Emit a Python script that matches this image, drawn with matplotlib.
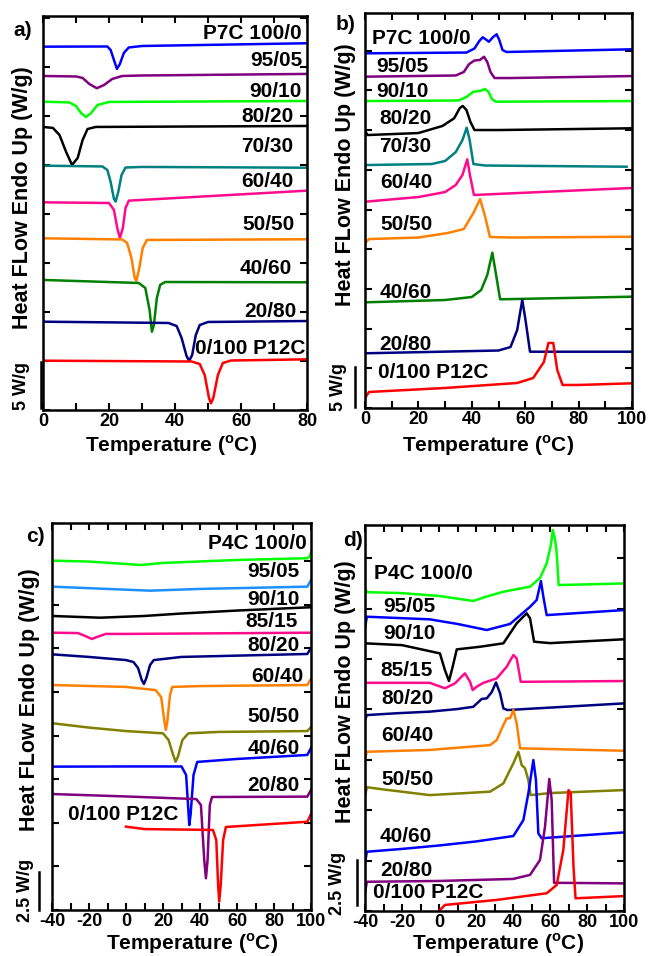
import matplotlib
matplotlib.use('Agg')
import matplotlib.pyplot as plt
from matplotlib.ticker import MultipleLocator
from matplotlib.lines import Line2D

plt.rcParams['font.family'] = ['Liberation Sans', 'DejaVu Sans']
plt.rcParams['font.weight'] = 'bold'
plt.rcParams['axes.unicode_minus'] = False
plt.rcParams['mathtext.fontset'] = 'custom'
plt.rcParams['mathtext.rm'] = 'Liberation Sans:bold'
plt.rcParams['mathtext.bf'] = 'Liberation Sans:bold'

# ---------------- panel a: P7C / P12C cooling ----------------
a_names = ['P7C 100/0', '95/05', '90/10', '80/20', '70/30', '60/40',
           '50/50', '40/60', '20/80', '0/100 P12C']
a_colors = ['#0000FF', '#800080', '#00FF00', '#000000', '#008080',
            '#FF0A8C', '#FF8000', '#008000', '#000080', '#FF0000']
a_temp = [
    [0, 19.5, 20.5, 21.5, 22.4, 23.3, 24.5, 26, 30, 80],
    [0, 10, 12, 14, 16.3, 18.5, 21, 24, 30, 80],
    [0, 8, 10, 11.5, 13, 14.5, 16.5, 20, 80],
    [0, 3, 5, 7, 8.8, 10.5, 12, 13.5, 16, 80],
    [0, 18, 19.5, 20.5, 21.5, 22, 22.8, 23.8, 25, 30, 80],
    [0, 20, 21.5, 22.5, 23.3, 24.2, 25, 26, 80],
    [0, 24, 25.5, 26.8, 27.8, 28.3, 29.2, 30.2, 31.5, 80],
    [0, 29, 31, 32.3, 33, 33.6, 34.5, 35.5, 37, 80],
    [0, 38, 40.5, 42, 43.5, 44.3, 45.2, 46.3, 47.5, 50, 80],
    [0, 45, 47.5, 49, 50.3, 50.9, 51.6, 53, 54.5, 57, 80],
]
a_heat = [
    [37.07, 37.09, 36.73, 35.71, 34.80, 35.31, 36.43, 36.99, 37.14, 37.42],
    [34.08, 34.03, 33.88, 33.27, 32.83, 33.16, 33.78, 34.08, 34.13, 34.29],
    [31.46, 31.38, 31.02, 30.31, 29.90, 30.26, 31.12, 31.43, 31.53],
    [28.88, 28.78, 28.06, 26.33, 25.00, 25.71, 27.55, 28.67, 28.88, 28.98],
    [24.93, 24.85, 24.49, 23.27, 21.53, 21.26, 22.24, 23.98, 24.74, 24.80, 24.72],
    [21.19, 21.12, 20.41, 18.57, 17.55, 18.57, 20.61, 21.36, 22.38],
    [17.52, 17.40, 17.04, 15.51, 13.47, 13.19, 14.49, 16.53, 17.35, 17.42],
    [13.27, 12.96, 12.45, 10.20, 7.99, 8.67, 11.43, 12.76, 13.06, 13.03],
    [9.01, 8.88, 8.57, 7.35, 5.51, 5.03, 5.61, 7.65, 8.67, 8.98, 9.08],
    [5.03, 4.95, 4.69, 3.57, 1.22, 0.68, 1.22, 3.57, 4.80, 5.05, 5.17],
]

# ---------------- panel b: P7C / P12C heating ----------------
b_names = a_names
b_colors = a_colors
b_temp = [
    [0, 38, 41, 42.8, 44.1, 45.3, 46.4, 48, 49.3, 50.3, 51.5, 53, 100],
    [0, 34, 37, 39, 41, 43, 44.6, 45.8, 47, 48.5, 55, 100],
    [0, 35, 38, 40.6, 43, 45, 46.3, 47.5, 49, 100],
    [0, 1, 20, 29, 33.4, 35.5, 36.6, 38, 39.5, 41, 50, 100],
    [0, 25, 30, 34, 36.5, 38.1, 39.2, 40.6, 45, 98],
    [0, 20, 30, 34, 36.5, 38.3, 39.3, 40.8, 100],
    [0, 1.5, 20, 31, 37, 40.6, 43.1, 45, 46.8, 55, 100],
    [0, 30, 40, 43.5, 45.8, 47.7, 48.8, 50.6, 100],
    [0, 50, 54.5, 57, 58.9, 60, 61.8, 100],
    [0, 1.5, 30, 57, 63, 67, 68.7, 70.5, 72, 74, 80, 100],
]
b_heat = [
    [44.67, 44.77, 45.28, 46.22, 46.69, 46.41, 46.13, 46.73, 47.07, 46.35, 45.09, 44.84, 45.18],
    [41.73, 41.88, 42.32, 43.32, 43.77, 43.83, 44.24, 43.58, 42.32, 41.56, 41.56, 41.81],
    [38.66, 38.73, 39.17, 39.84, 39.92, 40.18, 39.80, 38.92, 38.58, 38.66],
    [34.89, 34.38, 34.63, 35.52, 36.49, 37.78, 38.04, 37.53, 36.02, 35.01, 35.01, 35.23],
    [30.60, 30.73, 31.11, 32.24, 33.75, 35.30, 33.75, 30.73, 30.54, 30.39],
    [25.98, 26.57, 27.20, 28.09, 29.35, 31.32, 29.35, 26.83, 27.71],
    [20.78, 21.28, 21.47, 22.04, 22.54, 24.56, 26.32, 24.09, 21.54, 21.47, 21.57],
    [13.31, 13.60, 13.98, 14.86, 16.75, 19.56, 17.38, 13.69, 14.02],
    [6.89, 7.24, 7.68, 9.82, 13.60, 11.34, 7.09, 7.09],
    [1.26, 2.02, 2.52, 3.15, 3.78, 5.79, 8.19, 8.19, 4.79, 2.90, 2.90, 3.11],
]

# ---------------- panel c: P4C / P12C cooling ----------------
c_names = ['P4C 100/0', '95/05', '90/10', '85/15', '80/20', '60/40',
           '50/50', '40/60', '20/80', '0/100 P12C']
c_colors = ['#00FF00', '#1E90FF', '#000000', '#FF0A8C', '#000080',
            '#FF8000', '#808000', '#0000FF', '#800080', '#FF0000']
c_temp = [
    [-40, -20, 0, 7.6, 20, 60, 98, 99.5, 100],
    [-40, -10, 13, 40, 98, 100],
    [-40, -14, 10, 30, 60, 100],
    [-40, -26, -22, -18.5, -15, -11, 0, 100],
    [-40, -20, 0, 4, 6.5, 8.5, 9.7, 11, 13, 15, 30, 98, 100],
    [-40, 0, 16, 19, 20.8, 21.5, 22.3, 23.8, 25, 40, 98, 100],
    [-40, -20, 0, 20, 23, 25.5, 26.8, 28, 30.5, 33.7, 50, 98, 100],
    [-40, 0, 30, 32.5, 33.7, 34.2, 34.9, 36.5, 38.5, 60, 98, 100],
    [-40, 0, 38, 40.5, 42.3, 43.2, 44.1, 45.3, 46.5, 98, 100],
    [0, 10, 47, 48.8, 49.8, 50.4, 51.2, 52.5, 54, 98, 100],
]
c_heat = [
    [20.03, 19.98, 19.84, 19.78, 19.90, 20.07, 20.17, 20.30, 20.49],
    [18.54, 18.41, 18.31, 18.41, 18.54, 18.92],
    [16.86, 16.76, 16.86, 17.00, 17.17, 17.36],
    [15.90, 15.88, 15.71, 15.54, 15.68, 15.83, 15.83, 15.90],
    [14.66, 14.51, 14.33, 14.22, 13.88, 13.19, 12.96, 13.30, 14.05, 14.33, 14.51, 14.68, 15.02],
    [12.90, 12.79, 12.61, 12.21, 10.78, 10.32, 10.78, 12.33, 12.79, 12.84, 12.90, 13.25],
    [10.71, 10.46, 10.26, 10.13, 9.75, 8.89, 8.50, 8.77, 9.75, 10.13, 10.21, 10.26, 10.49],
    [8.22, 8.23, 8.23, 7.74, 5.73, 4.87, 5.45, 7.74, 8.49, 8.66, 8.89, 9.29],
    [6.65, 6.51, 6.36, 6.02, 2.87, 1.82, 2.87, 6.02, 6.48, 6.50, 6.88],
    [4.78, 4.64, 4.59, 4.01, 1.43, 0.48, 1.43, 4.01, 4.76, 5.06, 5.50],
]

# ---------------- panel d: P4C / P12C heating ----------------
d_names = c_names
d_colors = ['#00FF00', '#0000FF', '#000000', '#FF0A8C', '#000080',
            '#FF8000', '#808000', '#0000FF', '#800080', '#FF0000']
d_temp = [
    [-40, -39, -20, 0, 18.5, 25, 34.8, 49.2, 54.6, 58.2, 60.5, 61.5, 62.8, 63.6, 64.7, 100],
    [-40, -39, -5, 10, 25.8, 38.4, 49.2, 52.8, 55.1, 56.4, 58.2, 100],
    [-40, -20, 0.5, 3.2, 5.4, 7.4, 9.6, 22.2, 34.8, 42, 47.4, 49.2, 51.4, 60, 100],
    [-40, -5, 3.2, 8.6, 14, 16.8, 18.2, 20.4, 24, 31.2, 36.6, 40.2, 42, 44.2, 100],
    [-40, -39, -23, -5, 10, 18.5, 23.1, 25.8, 28.5, 30.8, 33, 34.8, 37, 100],
    [-40, -39, -5, 27.6, 31.2, 34.8, 36.6, 38.4, 40.2, 42, 43.8, 100],
    [-40, -39, -30, -5, 27.6, 34.8, 40.2, 42.9, 44.7, 46.5, 48.3, 49.5, 60, 100],
    [-40, -39, -20, 0, 20, 40.2, 45.6, 48.3, 51, 52.4, 53.7, 55.5, 100],
    [-40, -39, 0, 40, 49.2, 54.6, 57.3, 59.6, 60.9, 62.2, 100],
    [0.5, 3.2, 31.2, 58.2, 63.6, 67.2, 70, 71.2, 72.7, 73.8, 100],
]
d_heat = [
    [16.02, 15.82, 15.77, 15.63, 15.38, 15.58, 15.84, 16.09, 16.52, 17.25, 18.15, 18.90, 18.40, 17.76, 16.17, 16.25],
    [14.02, 14.60, 14.47, 14.24, 13.94, 14.24, 15.09, 15.43, 16.37, 15.59, 14.68, 14.93],
    [13.28, 13.19, 12.78, 11.95, 11.41, 12.12, 12.98, 13.11, 13.28, 14.27, 14.77, 14.52, 13.36, 13.29, 13.48],
    [11.32, 11.32, 11.05, 11.29, 11.79, 11.37, 10.96, 11.13, 11.32, 11.54, 12.12, 12.70, 12.53, 11.37, 11.41],
    [9.47, 9.72, 9.81, 9.89, 10.02, 10.13, 10.52, 10.55, 10.86, 11.34, 10.80, 10.05, 9.97, 10.30],
    [7.57, 7.90, 7.99, 8.23, 8.48, 9.23, 9.56, 9.56, 9.97, 9.31, 8.07, 7.95],
    [5.70, 6.14, 6.03, 5.75, 5.92, 6.33, 7.33, 7.90, 7.24, 7.08, 6.50, 5.75, 5.85, 6.00],
    [2.37, 2.94, 3.08, 3.25, 3.45, 3.72, 4.51, 5.84, 7.49, 6.50, 3.85, 3.61, 3.90],
    [0.88, 1.45, 1.49, 1.59, 1.79, 2.53, 4.18, 6.55, 5.51, 1.40, 1.37],
    [0.05, 0.30, 0.55, 0.88, 1.29, 3.03, 6.00, 5.84, 2.20, 0.63, 0.74],
]

# label anchors (data coords) and alignment for the sample names
a_lab = [(78.5, 38.44), (78.5, 35.64), (78.5, 32.48), (75.8, 29.93), (75.8, 26.87),
         (75.8, 23.30), (76.4, 18.88), (75.4, 14.46), (76.9, 10.03), (79.4, 6.30)]
b_lab = [(2.5, 46.56), (4.4, 42.98), (4.4, 39.84), (5.4, 36.40), (5.2, 32.91),
         (5.6, 28.38), (5.6, 23.05), (5.4, 14.52), (5.4, 8.06), (5.0, 4.45)]
c_lab = [(97.7, 20.99), (93.7, 19.40), (94.1, 17.82), (92.8, 16.57), (94.1, 15.19),
         (95.8, 13.38), (94.1, 11.08), (94.1, 9.27), (93.7, 7.11), (-31.2, 5.45)]
d_lab = [(-35.1, 16.75), (-30.1, 15.09), (-30.4, 13.77), (-31.9, 11.95), (-31.0, 10.55),
         (-31.0, 8.73), (-31.0, 6.50), (-31.9, 3.69), (-31.9, 2.03), (-35.5, 0.91)]
a_ha = ['right'] * 10
b_ha = ['left'] * 10
c_ha = ['right'] * 9 + ['left']
d_ha = ['left'] * 10

W, H = 649, 956
fig = plt.figure(figsize=(W / 100, H / 100), dpi=100)


def fx(px):
    return px / W


def fy(py):
    return 1 - py / H


def make_axes(left, top, right, bottom, xlim, ylim, ystep):
    ax = fig.add_axes([fx(left), fy(bottom), (right - left) / W, (bottom - top) / H])
    ax.set_xlim(*xlim)
    ax.set_ylim(*ylim)
    ax.xaxis.set_major_locator(MultipleLocator(20))
    ax.xaxis.set_minor_locator(MultipleLocator(10))
    ax.yaxis.set_major_locator(MultipleLocator(ystep))
    ax.tick_params(which='both', direction='in', top=True, right=True,
                   length=5, width=1.5, labelsize=13, pad=2.5)
    ax.tick_params(axis='y', labelleft=False)
    for lab in ax.get_xticklabels():
        lab.set_fontweight('bold')
    for s in ax.spines.values():
        s.set_linewidth(1.8)
    return ax


def draw(ax, temps, heats, colors, names, labpos, has):
    for t, q, c in zip(temps, heats, colors):
        ax.plot(t, q, color=c, lw=1.8, solid_joinstyle='round')
    for n, (x, y), ha in zip(names, labpos, has):
        ax.text(x, y, n, ha=ha, va='center', fontsize=15, fontweight='bold')


def scale_bar(x, y1, y2, text, tx, ty):
    fig.add_artist(Line2D([fx(x), fx(x)], [fy(y1), fy(y2)], color='black', lw=1.8,
                          transform=fig.transFigure))
    fig.text(fx(tx), fy(ty), text, rotation=90, ha='center', va='center',
             fontsize=13, fontweight='bold')


ylab = 'Heat FLow Endo Up (W/g)'
xlab = r'Temperature ($^{\mathbf{o}}$C)'

ax_a = make_axes(43, 16, 307, 410, (0, 80), (0, 40.2), 5)
draw(ax_a, a_temp, a_heat, a_colors, a_names, a_lab, a_ha)
ax_b = make_axes(365, 13, 632, 408, (0, 100), (0, 49.75), 5)
draw(ax_b, b_temp, b_heat, b_colors, b_names, b_lab, b_ha)
ax_c = make_axes(52, 523, 311, 910, (-40, 100), (0, 22.19), 2.5)
draw(ax_c, c_temp, c_heat, c_colors, c_names, c_lab, c_ha)
ax_d = make_axes(365, 525, 624, 911, (-40, 100), (0, 19.15), 2.5)
draw(ax_d, d_temp, d_heat, d_colors, d_names, d_lab, d_ha)

# panel letters
for s, x, y in [('a)', 23, 31), ('b)', 346, 25), ('c)', 35, 536), ('d)', 353, 540)]:
    fig.text(fx(x), fy(y), s, ha='center', va='center', fontsize=15, fontweight='bold')

# y labels
for x, y in [(23, 198), (345, 175), (30, 700), (345, 692)]:
    fig.text(fx(x), fy(y), ylab, rotation=90, ha='center', va='center',
             fontsize=15.5, fontweight='bold')

# x labels
for x, y in [(171, 446), (488, 446), (192, 944), (498, 944)]:
    fig.text(fx(x), fy(y), xlab, ha='center', va='center', fontsize=15, fontweight='bold')

# scale bars
scale_bar(41, 362, 408, '5 W/g', 22, 386)
scale_bar(355, 367, 407, '5 W/g', 338, 387)
scale_bar(39, 872, 910, '2.5 W/g', 25, 890)
scale_bar(356.5, 860, 905, '2.5 W/g', 337, 883)

fig.savefig('out.png', dpi=100, facecolor='white')
